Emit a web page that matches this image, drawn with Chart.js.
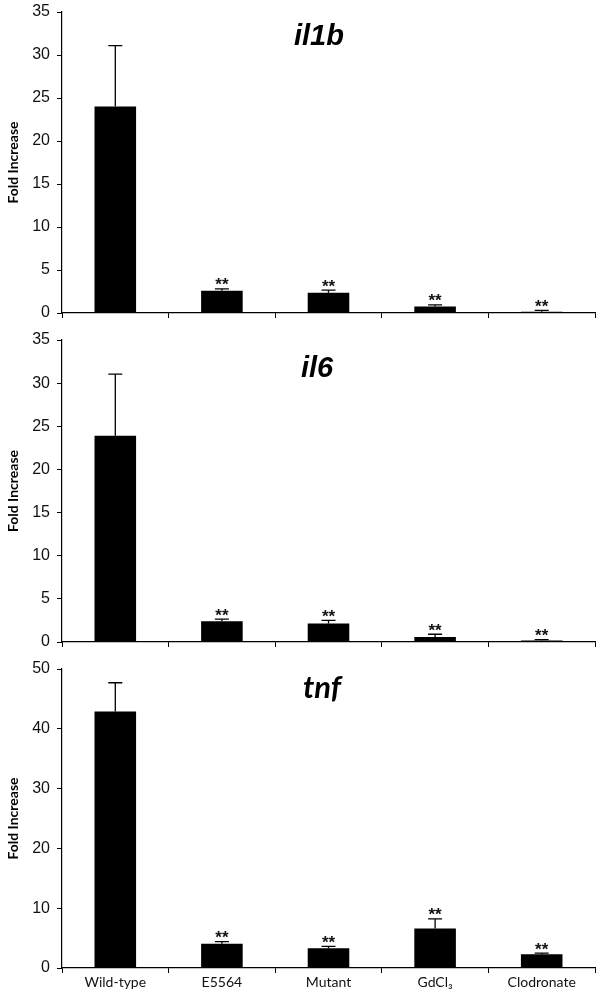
<!DOCTYPE html>
<html>
<head>
<meta charset="utf-8">
<script src="https://cdn.jsdelivr.net/npm/chart.js@4.4.1/dist/chart.umd.min.js"></script>
<style>
  html, body { margin: 0; padding: 0; background: #fff; }
  #wrap { position: relative; width: 602px; height: 996px; }
  canvas { position: absolute; left: 0; }
</style>
</head>
<body>
<div id="wrap">
  <canvas id="c1" width="602" height="330" style="top:0px"></canvas>
  <canvas id="c2" width="602" height="322" style="top:330px"></canvas>
  <canvas id="c3" width="602" height="346" style="top:650px"></canvas>
</div>
<script>
// du lieu doc tu hinh
const categories = ['Wild-type', 'E5564', 'Mutant', 'GdCl\u2083', 'Clodronate'];
const stars = ['', '**', '**', '**', '**'];

const il1bValues = [24.0, 2.6, 2.35, 0.75, 0.15];
const il1bErrTop = [31.1, 2.8, 2.65, 0.95, 0.3];

const il6Values = [23.9, 2.4, 2.15, 0.58, 0.18];
const il6ErrTop = [31.05, 2.65, 2.5, 0.9, 0.28];

const tnfValues = [42.9, 4.05, 3.3, 6.6, 2.3];
const tnfErrTop = [47.7, 4.4, 3.6, 8.2, 2.5];

// plugin ve error bar (chi phia tren) + dau sao + tieu de gen
const errorBarPlugin = {
  id: 'errorBars',
  afterDatasetsDraw(chart, args, opts) {
    const ctx = chart.ctx;
    const meta = chart.getDatasetMeta(0);
    const yScale = chart.scales.y;
    ctx.save();
    ctx.strokeStyle = '#000';
    ctx.lineWidth = 1.3;
    meta.data.forEach((bar, i) => {
      const x = bar.x;
      const yTop = yScale.getPixelForValue(opts.errTop[i]);
      const yVal = yScale.getPixelForValue(opts.values[i]);
      ctx.beginPath();
      ctx.moveTo(x, yVal);
      ctx.lineTo(x, yTop);
      ctx.moveTo(x - 7, yTop);
      ctx.lineTo(x + 7, yTop);
      ctx.stroke();
      if (opts.stars[i]) {
        ctx.fillStyle = '#111';
        ctx.font = 'bold 17px "Liberation Sans", Arial';
        ctx.textAlign = 'center';
        ctx.textBaseline = 'alphabetic';
        ctx.fillText(opts.stars[i], x, yTop + 1.5);
      }
    });
    // tieu de gen
    ctx.fillStyle = '#000';
    ctx.font = opts.titleFont;
    ctx.textAlign = 'left';
    ctx.textBaseline = 'alphabetic';
    ctx.fillText(opts.title, opts.titleX, opts.titleY);
    ctx.restore();
  }
};

function renderPanel(canvasId, values, errTop, title, titleFont, titleX, titleY, yMax, yStep, layout) {
  const ctx = document.getElementById(canvasId).getContext('2d');
  return new Chart(ctx, {
    type: 'bar',
    data: {
      labels: categories,
      datasets: [{
        data: values,
        backgroundColor: '#000',
        borderWidth: 0,
        categoryPercentage: 1.0,
        barPercentage: 0.39
      }]
    },
    plugins: [errorBarPlugin],
    options: {
      responsive: false,
      animation: false,
      layout: { padding: { top: layout.top, right: 7, left: 0, bottom: 0 } },
      plugins: {
        legend: { display: false },
        tooltip: { enabled: false },
        errorBars: {
          values: values, errTop: errTop, stars: stars,
          title: title, titleFont: titleFont, titleX: titleX, titleY: titleY
        }
      },
      scales: {
        x: {
          afterFit(scale) { scale.height = layout.xHeight; },
          grid: { drawOnChartArea: false, tickLength: 5, color: '#000', offset: true },
          border: { color: '#000', width: 1.2 },
          ticks: {
            display: layout.showLabels,
            color: '#111',
            padding: 1,
            maxRotation: 0,
            font: { family: 'Lato, "Open Sans", sans-serif', size: 14 }
          }
        },
        y: {
          min: 0, max: yMax,
          afterFit(scale) {
            scale.width = 62;
            // khong de nhan truc y day vung ve
            scale.paddingTop = 0;
            scale.paddingBottom = 0;
          },
          grid: { drawOnChartArea: false, tickLength: 5, color: '#000' },
          border: { color: '#000', width: 1.2 },
          ticks: {
            stepSize: yStep,
            color: '#111',
            padding: 7,
            font: { family: '"Liberation Sans", Arial, sans-serif', size: 16 }
          },
          title: {
            display: true,
            text: 'Fold Increase',
            color: '#000',
            padding: { top: 5, bottom: 0 },
            font: { family: 'Lato, "Open Sans", sans-serif', size: 14, weight: 'bold' }
          }
        }
      }
    }
  });
}

const arialTitle = 'italic bold 29px "Liberation Sans", Arial, sans-serif';
const calibriTitle = 'italic bold 31px Lato, "Open Sans", sans-serif';

renderPanel('c1', il1bValues, il1bErrTop, 'il1b', arialTitle, 294, 45, 35, 5,
  { top: 12, xHeight: 17, showLabels: false });
renderPanel('c2', il6Values, il6ErrTop, 'il6', arialTitle, 301, 377 - 330, 35, 5,
  { top: 10, xHeight: 10, showLabels: false });
renderPanel('c3', tnfValues, tnfErrTop, 'tnf', calibriTitle, 303, 698 - 650, 50, 10,
  { top: 19, xHeight: 28, showLabels: true });
</script>
</body>
</html>
